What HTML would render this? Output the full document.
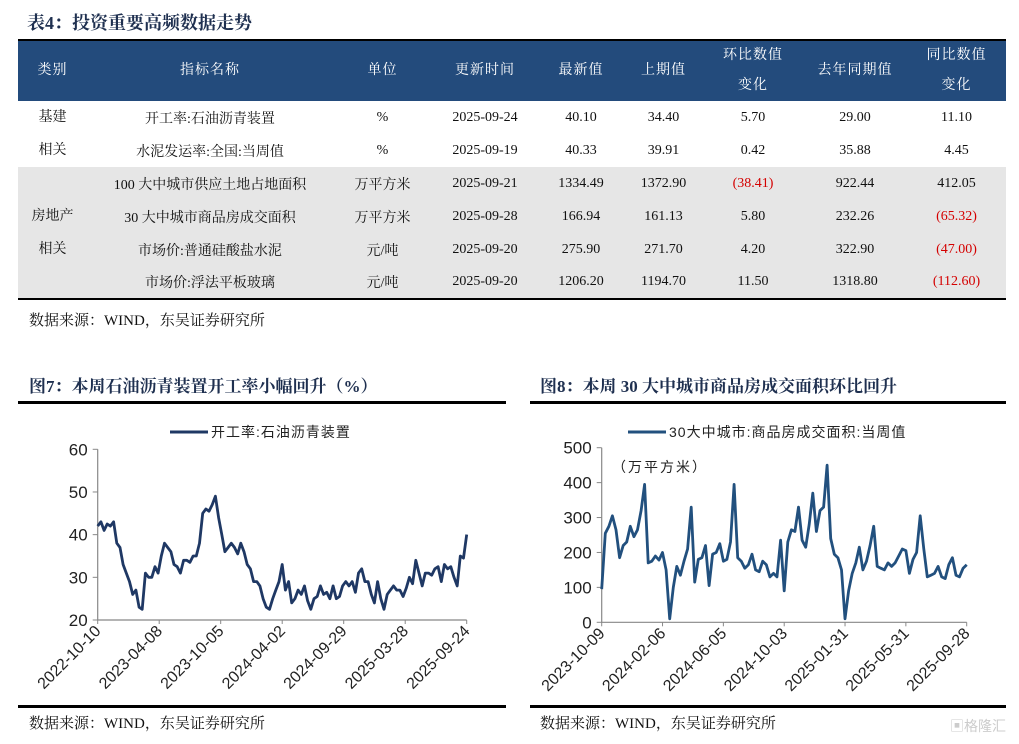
<!DOCTYPE html>
<html><head><meta charset="utf-8">
<style>
*{margin:0;padding:0;box-sizing:border-box}
body{width:1019px;height:744px;background:#fff;position:relative;overflow:hidden;font-family:"Liberation Serif","Noto Serif CJK SC",serif;color:#111}
.t{position:absolute;font-weight:bold;color:#1f3050;font-size:17px;white-space:nowrap}
.src{position:absolute;font-size:15px;white-space:nowrap;color:#111}
.rule{position:absolute;height:3px;background:#000}
table{position:absolute;left:18px;top:39px;width:988px;border-collapse:collapse;table-layout:fixed;border-top:2px solid #000;border-bottom:2px solid #000}
th{background:#234b7c;color:#fff;font-weight:normal;font-size:14px;height:60px;line-height:30px;letter-spacing:1px}
td{height:33px;font-size:14px;text-align:center;white-space:nowrap}
tr.g td{background:#e6e6e6}
.r{color:#d40000}
</style></head><body>
<div class="t" style="left:27px;top:9px;font-size:18px">表4：投资重要高频数据走势</div>
<table>
<colgroup><col style="width:69px"><col style="width:246px"><col style="width:99px"><col style="width:106px"><col style="width:86px"><col style="width:79px"><col style="width:100px"><col style="width:104px"><col style="width:99px"></colgroup>
<tr><th>类别</th><th>指标名称</th><th>单位</th><th>更新时间</th><th>最新值</th><th>上期值</th><th>环比数值<br>变化</th><th>去年同期值</th><th>同比数值<br>变化</th></tr>
<tr><td rowspan="2" style="line-height:33px">基建<br>相关</td><td>开工率:石油沥青装置</td><td>%</td><td>2025-09-24</td><td>40.10</td><td>34.40</td><td>5.70</td><td>29.00</td><td>11.10</td></tr>
<tr><td>水泥发运率:全国:当周值</td><td>%</td><td>2025-09-19</td><td>40.33</td><td>39.91</td><td>0.42</td><td>35.88</td><td>4.45</td></tr>
<tr class="g"><td rowspan="4" style="line-height:33px">房地产<br>相关</td><td>100 大中城市供应土地占地面积</td><td>万平方米</td><td>2025-09-21</td><td>1334.49</td><td>1372.90</td><td class="r">(38.41)</td><td>922.44</td><td>412.05</td></tr>
<tr class="g"><td>30 大中城市商品房成交面积</td><td>万平方米</td><td>2025-09-28</td><td>166.94</td><td>161.13</td><td>5.80</td><td>232.26</td><td class="r">(65.32)</td></tr>
<tr class="g"><td>市场价:普通硅酸盐水泥</td><td>元/吨</td><td>2025-09-20</td><td>275.90</td><td>271.70</td><td>4.20</td><td>322.90</td><td class="r">(47.00)</td></tr>
<tr class="g"><td>市场价:浮法平板玻璃</td><td>元/吨</td><td>2025-09-20</td><td>1206.20</td><td>1194.70</td><td>11.50</td><td>1318.80</td><td class="r">(112.60)</td></tr>
</table>
<div class="src" style="left:29px;top:309px;">数据来源：WIND，东吴证券研究所</div>

<div class="t" style="left:29px;top:372px;">图7：本周石油沥青装置开工率小幅回升（%）</div>
<div class="t" style="left:540px;top:372px;">图8：本周 30 大中城市商品房成交面积环比回升</div>
<div class="rule" style="left:18px;top:401px;width:488px"></div>
<div class="rule" style="left:530px;top:401px;width:476px"></div>
<div class="rule" style="left:18px;top:705px;width:488px"></div>
<div class="rule" style="left:530px;top:705px;width:476px"></div>
<div class="src" style="left:29px;top:712px;">数据来源：WIND，东吴证券研究所</div>
<div class="src" style="left:540px;top:712px;">数据来源：WIND，东吴证券研究所</div>
<div class="src" style="left:950px;top:716px;color:#ccc;font-size:14px;font-family:'Liberation Sans','Noto Sans CJK SC',sans-serif">▣格隆汇</div>

<svg id="svg" width="1019" height="744" style="position:absolute;left:0;top:0"></svg>
<script>
const c1Ticks=["2022-10-10","2023-04-08","2023-10-05","2024-04-02","2024-09-29","2025-03-28","2025-09-24"];
const c1YTicks=[20,30,40,50,60];
const c1Values=[42,43,41,42.5,42,43,38,37,33,31,29,26,27,23,22.5,31,30,30,32.5,31,35,38,37,36,33,32.5,31,34,34,33.5,35,35,38,45,46,45.5,47,49,44,40,36,37,38,37,35.5,38,36,33,32,29,29,28,25,23,22.5,25,27,29,33,27,29,24,25,27,26,28,24.5,22.5,25,25.5,28,26,26.5,25,28,25,25.5,28,29,28,29,26.5,31,32,29,29,26,24,29,25,22.5,26,27,28,27,27,25.5,27.5,30,28.5,34,31,28,31,31,30.5,32,32.5,29,33,32,32.5,30,28,35,34.5,40];
const c2Ticks=["2023-10-09","2024-02-06","2024-06-05","2024-10-03","2025-01-31","2025-05-31","2025-09-28"];
const c2YTicks=[0,100,200,300,400,500];
const c2Values=[95,255,275,305,265,185,220,230,275,245,265,320,395,170,175,190,178,200,150,10,100,160,135,175,210,330,115,180,185,220,105,195,200,225,175,180,230,395,185,175,155,165,195,150,145,175,165,130,140,130,235,90,230,265,260,330,235,215,280,370,260,320,330,450,240,195,185,150,10,90,140,170,215,150,175,220,275,160,155,150,170,160,170,190,210,205,140,180,200,305,210,130,135,140,160,130,125,165,185,135,130,155,165];

const svg=document.getElementById('svg');
const NS='http://www.w3.org/2000/svg';
function mk(tag,attrs,parent){const e=document.createElementNS(NS,tag);for(const k in attrs)e.setAttribute(k,attrs[k]);(parent||svg).appendChild(e);return e;}

function chart(id,x0,x1,yTop,yBot,yMin,yMax,yTicks,xTicks,vals,color,legendX,legendText){
  const g=mk('g',{});
  
  
  const sx=i=>x0+(x1-x0)*i/(vals.length-1);
  const sy=v=>yBot-(v-yMin)/(yMax-yMin)*(yBot-yTop);
  const ax=mk('path',{d:`M${x0} ${yTop}V${yBot}H${x1}`,stroke:'#888',fill:'none','stroke-width':1.2},g);
  
  
  yTicks.forEach(v=>{
    mk('line',{x1:x0-5,x2:x0,y1:sy(v),y2:sy(v),stroke:'#888'},g);
    const t=mk('text',{x:x0-10,y:sy(v)+6,'text-anchor':'end','font-size':17,'font-family':'Liberation Sans,sans-serif',fill:'#222'},g);
    t.textContent=v;
    
    
  });
  xTicks.forEach((lab,i)=>{
    const x=x0+(x1-x0)*i/(xTicks.length-1);
    mk('line',{x1:x,x2:x,y1:yBot,y2:yBot+4,stroke:'#888'},g);
    const t=mk('text',{x:x+4,y:yBot+12,'text-anchor':'end','font-size':16,'font-family':'Liberation Sans,sans-serif',fill:'#222',transform:`rotate(-45 ${x+4} ${yBot+12})`},g);
    t.textContent=lab;
    
    
  });
  const p=mk('path',{d:vals.map((v,i)=>(i?'L':'M')+sx(i).toFixed(1)+' '+sy(v).toFixed(1)).join(''),stroke:color,fill:'none','stroke-width':2.8,'stroke-linejoin':'round'},g);
  
  
  const lg=mk('g',{},g);
  
  
  mk('line',{x1:legendX,x2:legendX+38,y1:432,y2:432,stroke:color,'stroke-width':3},lg);
  const lt=mk('text',{x:legendX+41,y:437,'font-size':14,'font-family':'Liberation Sans,Noto Sans CJK SC,sans-serif',fill:'#222','letter-spacing':1},lg);
  lt.textContent=legendText;
}
chart('chart7-asphalt',97.7,466.7,449.3,620,20,60,c1YTicks,c1Ticks,c1Values,'#1f3864',170,'开工率:石油沥青装置');
chart('chart8-housing',601.7,966.7,447.7,622.3,0,500,c2YTicks,c2Ticks,c2Values,'#22507e',628,'30大中城市:商品房成交面积:当周值');
const u=mk('text',{x:612,y:472,'font-size':14,'font-family':'Liberation Sans,Noto Sans CJK SC,sans-serif',fill:'#222','letter-spacing':2});
u.textContent='（万平方米）';


</script>
</body></html>
